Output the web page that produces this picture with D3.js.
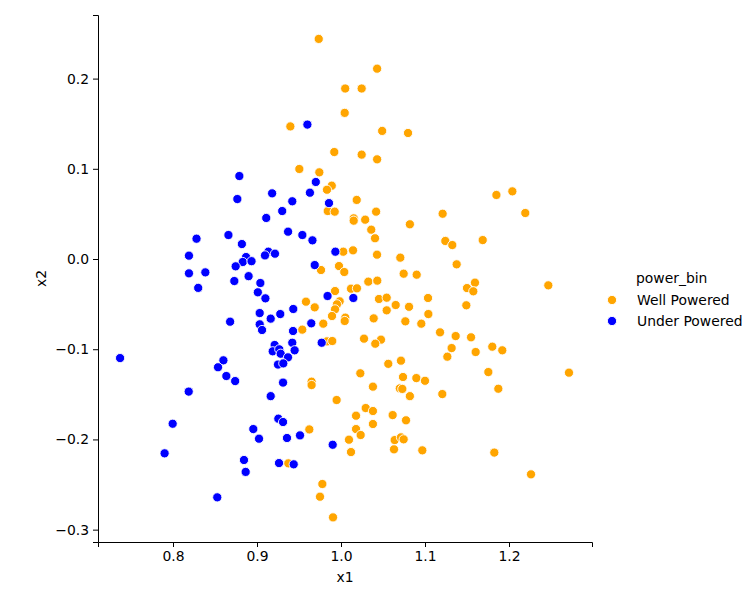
<!DOCTYPE html>
<html>
<head>
<meta charset="utf-8">
<script src="https://cdn.jsdelivr.net/npm/d3@7"></script>
<style>
  body { margin: 0; background: #fff; }
  text { font-family: "DejaVu Sans", sans-serif; }
</style>
</head>
<body>
<svg id="chart" width="755" height="600"></svg>
<script>
'use strict';

// Well Powered (orange)
var wellX = [0.9735, 1.043, 1.005, 1.0246, 1.0044, 0.9397, 1.049, 1.0798, 0.992, 1.0246,
    1.043, 0.9504, 0.9742, 0.989, 0.9833, 1.0187, 1.185, 1.204, 0.9842, 0.9925,
    1.0418, 1.0151, 1.0151, 1.0288, 1.036, 1.0405, 1.082, 1.0027, 1.0143, 1.0429,
    1.0706, 0.9976, 0.9762, 1.0039, 1.0746, 1.0325, 1.0432, 1.0119, 1.019, 0.9929,
    1.0452, 1.0544, 1.081, 1.0651, 1.0544, 0.9984, 0.9952, 0.9929, 0.9583, 0.9687,
    0.9893, 1.0051, 1.0044, 1.0389, 1.0766, 0.9789, 0.9539, 0.9833, 0.9896, 1.0274,
    1.0476, 1.0408, 1.0563, 1.0714, 1.023, 0.965, 0.965, 1.038, 1.0738, 1.070,
    1.073, 1.082, 0.9948, 1.0179, 1.0294, 1.038, 1.038, 1.0615, 1.0774, 0.9623,
    1.0179, 1.0234, 1.0095, 1.0119, 1.0639, 1.0714, 1.0746, 1.0631, 0.9373, 0.9778,
    0.975, 0.9905, 1.121, 1.2194, 1.1242, 1.1325, 1.1687, 1.1377, 1.0901, 1.2468,
    1.15, 1.1595, 1.1575, 1.1036, 1.1492, 1.104, 1.0956, 1.1179, 1.1365, 1.1548,
    1.1317, 1.1266, 1.1603, 1.1801, 1.192, 1.0897, 1.1, 1.1206, 1.1754, 1.1873,
    1.2714, 1.0968, 1.1825, 1.2262];
var wellY = [0.244, 0.211, 0.189, 0.189, 0.162, 0.147, 0.142, 0.1397, 0.1186, 0.1157,
    0.1105, 0.0998, 0.0961, 0.0813, 0.0768, 0.0655, 0.071, 0.075, 0.0532, 0.0525,
    0.0525, 0.0451, 0.0425, 0.0436, 0.0325, 0.023, 0.0385, 0.0081, 0.0096, 0.0048,
    0.0015, -0.0078, -0.0122, -0.0144, -0.0163, -0.0251, -0.024, -0.0329, -0.0325, -0.0355,
    -0.0443, -0.0429, -0.053, -0.051, -0.0569, -0.0469, -0.0502, -0.0558, -0.0473, -0.0536,
    -0.0632, -0.065, -0.0687, -0.0658, -0.0691, -0.0717, -0.0783, -0.0913, -0.0909, -0.0883,
    -0.0894, -0.0939, -0.1162, -0.1127, -0.1267, -0.136, -0.1397, -0.1415, -0.1308, -0.1434,
    -0.144, -0.152, -0.1563, -0.1737, -0.1652, -0.1685, -0.1829, -0.173, -0.1788, -0.1889,
    -0.1885, -0.1951, -0.2003, -0.214, -0.2007, -0.1977, -0.1999, -0.211, -0.2265, -0.2494,
    -0.2635, -0.2864, 0.0502, 0.051, 0.02, 0.0155, 0.021, -0.0059, -0.0174, -0.0292,
    -0.0322, -0.0262, -0.0358, -0.0432, -0.0513, -0.061, -0.0717, -0.0813, -0.0854, -0.0868,
    -0.0987, -0.1083, -0.1031, -0.0972, -0.1012, -0.132, -0.135, -0.1497, -0.1253, -0.1438,
    -0.126, -0.2121, -0.2146, -0.2387];

// Under Powered (blue)
var underX = [0.96, 0.970, 0.918, 0.963, 0.942, 0.9857, 0.879, 0.8766, 0.930, 0.911,
    0.937, 0.954, 0.966, 0.9135, 0.9095, 0.9214, 0.9933, 0.828, 0.866, 0.819,
    0.882, 0.887, 0.883, 0.8935, 0.8746, 0.819, 0.8385, 0.830, 0.873, 0.890,
    0.9687, 0.904, 0.901, 0.910, 0.984, 1.0147, 0.868, 0.9032, 0.9277, 0.9432,
    0.9163, 0.9032, 0.906, 0.9646, 0.9429, 0.977, 0.921, 0.942, 0.9187, 0.9265,
    0.9282, 0.9448, 0.9369, 0.925, 0.9313, 0.737, 0.86, 0.8536, 0.8635, 0.874,
    0.8187, 0.7996, 0.8956, 0.790, 0.8845, 0.8865, 0.8527, 0.931, 0.9163, 0.9254,
    0.931, 0.9024, 0.9357, 0.9512, 0.9901, 0.9262, 0.9437];
var underY = [0.149, 0.0854, 0.0728, 0.0735, 0.064, 0.062, 0.092, 0.0665, 0.0532, 0.0455,
    0.0303, 0.0266, 0.0207, 0.0081, 0.004, 0.0059, 0.0081, 0.0225, 0.0266, 0.0037,
    0.0166, 0.0022, -0.0033, -0.0024, -0.0081, -0.0159, -0.0148, -0.032, -0.0244, -0.019,
    -0.0067, -0.0266, -0.0369, -0.0436, -0.041, -0.0432, -0.0695, -0.0599, -0.061, -0.0554,
    -0.0661, -0.0724, -0.0787, -0.0713, -0.0798, -0.0928, -0.0953, -0.0928, -0.1023, -0.1001,
    -0.105, -0.1012, -0.109, -0.117, -0.1157, -0.1098, -0.1123, -0.120, -0.1297, -0.1353,
    -0.147, -0.1826, -0.1885, -0.2154, -0.2228, -0.236, -0.2642, -0.137, -0.152, -0.177,
    -0.1807, -0.1992, -0.1984, -0.1955, -0.2059, -0.2262, -0.2276];

var seriesNames = ['Well Powered', 'Under Powered'];
var seriesColors = ['orange', 'blue'];
var xTicks = [0.8, 0.9, 1.0, 1.1, 1.2];
var yTicks = [-0.3, -0.2, -0.1, 0.0, 0.1, 0.2];

var svg = d3.select('#chart');

var plotLeft = 98, plotRight = 592, plotTop = 15, plotBottom = 542;

var x = d3.scaleLinear().domain([0.71071, 1.29881]).range([plotLeft, plotRight]);
var y = d3.scaleLinear().domain([-0.3137, 0.2705]).range([plotBottom, plotTop]);

function fmt(v) {
    return d3.format('.1f')(v).replace('-', '\u2212');
}

var xAxis = svg.append('g')
    .attr('transform', 'translate(0,' + plotBottom + ')')
    .call(d3.axisBottom(x).tickValues(xTicks).tickFormat(fmt).tickSizeOuter(0).tickSize(5).tickPadding(4));
var yAxis = svg.append('g')
    .attr('transform', 'translate(' + plotLeft + ',0)')
    .call(d3.axisLeft(y).tickValues(yTicks).tickFormat(fmt).tickSizeOuter(0).tickSize(5).tickPadding(4));

[xAxis, yAxis].forEach(function(ax) {
    ax.selectAll('text').attr('font-size', 13.9).attr('fill', '#000')
        .style('font-family', '"DejaVu Sans", sans-serif');
    ax.selectAll('line').attr('stroke', '#000').attr('stroke-width', 1);
    ax.select('.domain').attr('stroke', '#000').attr('stroke-width', 1);
});

svg.append('text')
    .attr('x', (plotLeft + plotRight) / 2).attr('y', 582)
    .attr('text-anchor', 'middle').attr('font-size', 13.9)
    .text('x1');
svg.append('text')
    .attr('transform', 'translate(46,' + ((plotTop + plotBottom) / 2) + ') rotate(-90)')
    .attr('text-anchor', 'middle').attr('font-size', 13.9)
    .text('x2');

var wellData = wellX.map(function(v, i) { return {x: v, y: wellY[i], s: 0}; });
var underData = underX.map(function(v, i) { return {x: v, y: underY[i], s: 1}; });

svg.append('g').selectAll('circle')
    .data(wellData.concat(underData))
    .enter().append('circle')
    .attr('cx', function(d) { return x(d.x); })
    .attr('cy', function(d) { return y(d.y); })
    .attr('r', 4.6)
    .attr('fill', function(d) { return seriesColors[d.s]; })
    .attr('stroke', '#fff')
    .attr('stroke-width', 0.9);

// legend
var legend = svg.append('g');
legend.append('text')
    .attr('x', 636).attr('y', 283)
    .attr('font-size', 13.9)
    .text('power_bin');

var items = legend.selectAll('.item')
    .data(seriesNames)
    .enter().append('g')
    .attr('class', 'item')
    .attr('transform', function(d, i) { return 'translate(0,' + (300 + i * 21) + ')'; });
items.append('circle')
    .attr('cx', 612).attr('cy', 0).attr('r', 4.6)
    .attr('fill', function(d, i) { return seriesColors[i]; })
    .attr('stroke', '#fff').attr('stroke-width', 0.9);
items.append('text')
    .attr('x', 637).attr('y', 5)
    .attr('font-size', 13.9)
    .text(function(d) { return d; });
</script>
</body>
</html>
